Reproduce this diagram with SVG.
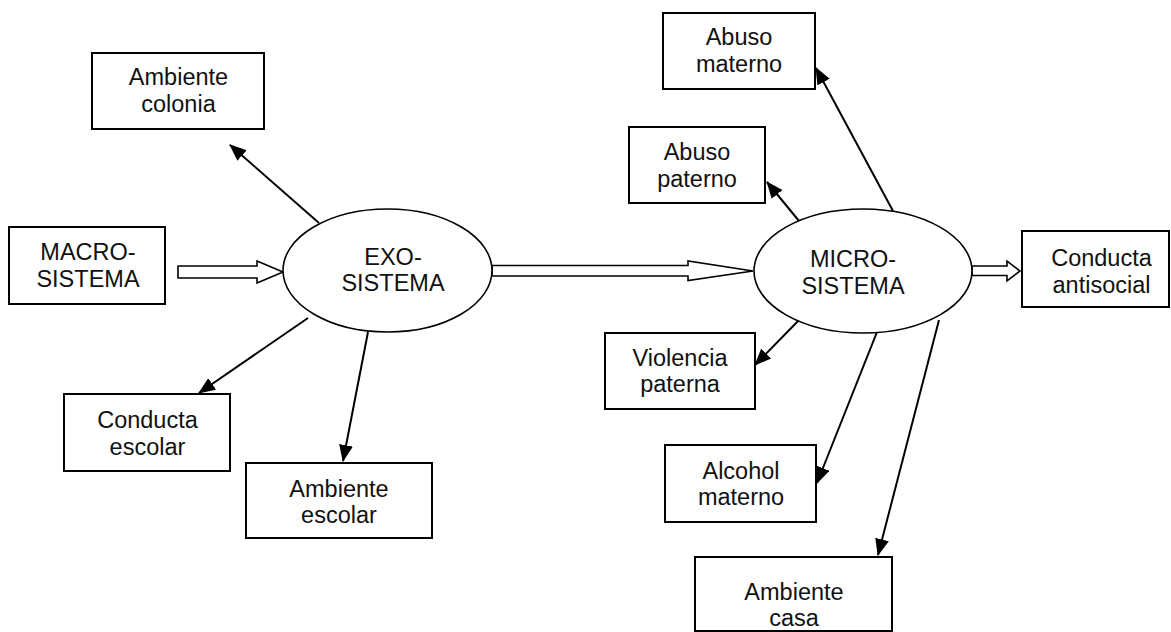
<svg xmlns="http://www.w3.org/2000/svg" width="1171" height="632" viewBox="0 0 1171 632">
  <style>
    .box { fill: #fff; stroke: #000; stroke-width: 2; }
    .oval { fill: #fff; stroke: #000; stroke-width: 1.6; }
    .lbl { font-family: "Liberation Sans", Arial, sans-serif; font-size: 23.5px; fill: #111; text-anchor: middle; }
    .link { stroke: #000; stroke-width: 2; fill: none; marker-end: url(#head); }
    .block { fill: #fff; stroke: #000; stroke-width: 1.6; stroke-linejoin: miter; }
  </style>
  <defs>
    <marker id="head" markerUnits="userSpaceOnUse" markerWidth="17" markerHeight="14" refX="16" refY="7" orient="auto">
      <path d="M0,0 L17,7 L0,14 z" fill="#000"/>
    </marker>
  </defs>

  <rect width="1171" height="632" fill="#fff"/>

  <!-- connectors -->
  <g id="connectors">
    <!-- block arrows between the systems -->
    <polygon class="block" points="178,266 257,266 257,261 283,272 257,283 257,278 178,278"/>
    <polygon class="block" points="492,265.5 688,265.5 688,261 753,271 688,280.5 688,276 492,276"/>
    <polygon class="block" points="972,266 1007,266 1007,261 1020,271 1007,281 1007,275.5 972,275.5"/>
    <!-- exosystem outputs -->
    <line class="link" x1="319" y1="223" x2="230" y2="145"/>
    <line class="link" x1="308" y1="318" x2="199" y2="393"/>
    <line class="link" x1="368" y1="332" x2="343" y2="461"/>
    <!-- microsystem outputs -->
    <line class="link" x1="893" y1="211" x2="816" y2="68"/>
    <line class="link" x1="799" y1="221" x2="767" y2="182"/>
    <line class="link" x1="800" y1="319" x2="755" y2="365"/>
    <line class="link" x1="877" y1="332" x2="817" y2="483"/>
    <line class="link" x1="939" y1="320" x2="878" y2="555"/>
  </g>

  <g id="macro">
    <rect class="box" x="9" y="227" width="156" height="77"/>
    <text class="lbl" x="88" y="260">MACRO-</text>
    <text class="lbl" x="88" y="287">SISTEMA</text>
  </g>

  <g id="exo">
    <ellipse class="oval" cx="387.5" cy="270.5" rx="104.5" ry="61.5"/>
    <text class="lbl" x="393" y="264.5">EXO-</text>
    <text class="lbl" x="393" y="291">SISTEMA</text>
  </g>

  <g id="micro">
    <ellipse class="oval" cx="863" cy="271" rx="109" ry="62"/>
    <text class="lbl" x="853" y="267">MICRO-</text>
    <text class="lbl" x="853" y="293.5">SISTEMA</text>
  </g>

  <g id="ambiente-colonia">
    <rect class="box" x="92" y="53" width="172" height="76"/>
    <text class="lbl" x="178.5" y="85">Ambiente</text>
    <text class="lbl" x="178.5" y="112">colonia</text>
  </g>

  <g id="conducta-escolar">
    <rect class="box" x="64" y="394" width="166" height="77"/>
    <text class="lbl" x="147.5" y="428">Conducta</text>
    <text class="lbl" x="147.5" y="455">escolar</text>
  </g>

  <g id="ambiente-escolar">
    <rect class="box" x="246" y="463" width="186" height="75"/>
    <text class="lbl" x="339" y="497">Ambiente</text>
    <text class="lbl" x="339" y="523">escolar</text>
  </g>

  <g id="abuso-materno">
    <rect class="box" x="663" y="13" width="152" height="76"/>
    <text class="lbl" x="739" y="45">Abuso</text>
    <text class="lbl" x="739" y="72">materno</text>
  </g>

  <g id="abuso-paterno">
    <rect class="box" x="629" y="127" width="136" height="76"/>
    <text class="lbl" x="697" y="160">Abuso</text>
    <text class="lbl" x="697" y="187">paterno</text>
  </g>

  <g id="conducta-antisocial">
    <rect class="box" x="1022" y="231" width="147" height="76"/>
    <text class="lbl" x="1101.5" y="266">Conducta</text>
    <text class="lbl" x="1101.5" y="292.5">antisocial</text>
  </g>

  <g id="violencia-paterna">
    <rect class="box" x="605" y="333" width="150" height="76"/>
    <text class="lbl" x="680" y="366">Violencia</text>
    <text class="lbl" x="680" y="392">paterna</text>
  </g>

  <g id="alcohol-materno">
    <rect class="box" x="665" y="445" width="151" height="77"/>
    <text class="lbl" x="741" y="479">Alcohol</text>
    <text class="lbl" x="741" y="505">materno</text>
  </g>

  <g id="ambiente-casa">
    <rect class="box" x="695" y="557" width="197" height="74"/>
    <text class="lbl" x="794" y="600">Ambiente</text>
    <text class="lbl" x="794" y="626">casa</text>
  </g>
</svg>
